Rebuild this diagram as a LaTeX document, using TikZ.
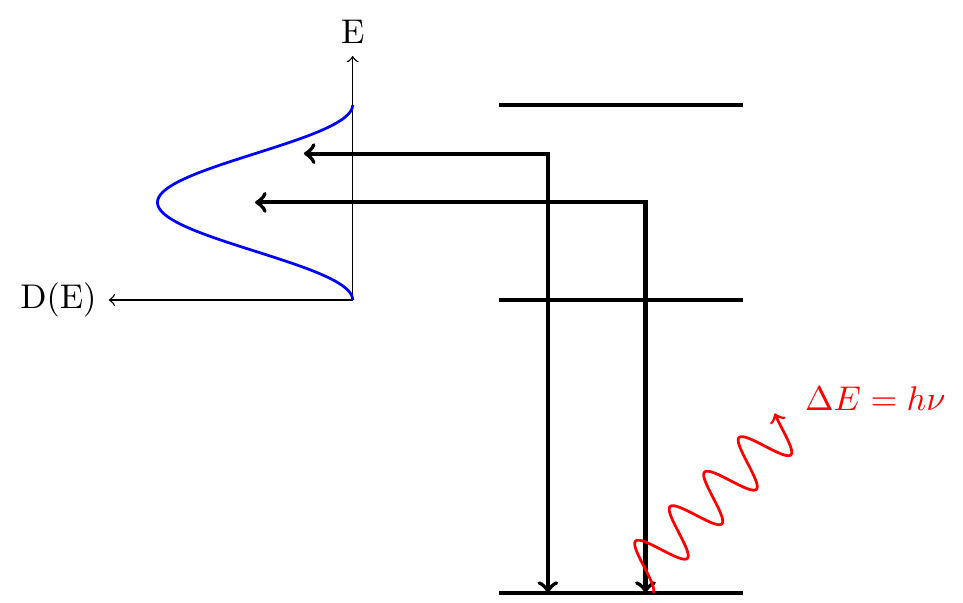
\documentclass[tikz,border=0pt]{standalone}
\begin{document}
\begin{tikzpicture}[scale=0.5,
  level/.style={very thick},
  transition/.style={very thick,<->},
  axisline/.style={->},
  dos/.style={blue,thick},
  photon/.style={red,thick,->}]
\useasboundingbox (-7.227,-0.189) rectangle (12.506,12.148);
% coordinates
\coordinate (o) at (0,6);
\coordinate (L0a) at (3,0);  \coordinate (L0b) at (8,0);
\coordinate (L1a) at (3,6);  \coordinate (L1b) at (8,6);
\coordinate (L2a) at (3,10); \coordinate (L2b) at (8,10);
\coordinate (t1) at (-1,9); \coordinate (c1) at (4,9); \coordinate (b1) at (4,0);
\coordinate (t2) at (-2,8); \coordinate (c2) at (6,8); \coordinate (b2) at (6,0);
% energy levels
\draw[level] (L0a) -- (L0b);
\draw[level] (L1a) -- (L1b);
\draw[level] (L2a) -- (L2b);
% transitions
\draw[transition] (t1) -- (c1) -- (b1);
\draw[transition] (t2) -- (c2) -- (b2);
% axes
\node[above] (E) at (0,11) {E};
\node[left] (DE) at (-5,6) {D(E)};
\draw[axisline] (o) -- (E);
\draw[axisline] (o) -- (DE);
% density of states
\draw[dos] plot[domain=6:10, samples=120, smooth] ({-2*(1+cos(90*(\x-8)))}, \x);
% photon
\draw[photon] plot[domain=0:4.37, samples=300] ({6.15+(\x-0.5*(1-cos(360*\x)))/sqrt(2)}, {(\x+0.5*(1-cos(360*\x)))/sqrt(2)});
\node[red] (dE) at (10.71,3.97) {$\Delta E = h\nu$};
\end{tikzpicture}
\end{document}
